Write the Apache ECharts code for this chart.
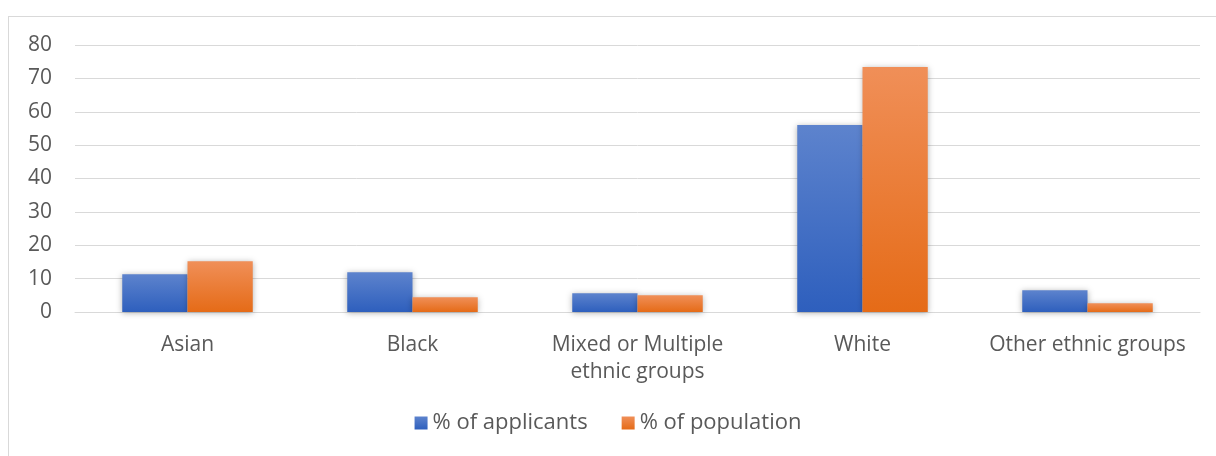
<!DOCTYPE html>
<html>
<head>
<meta charset="utf-8">
<script src="https://cdn.jsdelivr.net/npm/echarts@6/dist/echarts.min.js"></script>
<style>
  html, body { margin: 0; padding: 0; background: #fff; }
  #frame { position: absolute; left: 8px; top: 16px; width: 1220px; height: 460px; border: 1px solid #d9d9d9; box-sizing: border-box; }
  #chart { position: absolute; left: 0; top: 0; width: 1216px; height: 456px; }
</style>
</head>
<body>
<div id="frame"></div>
<div id="chart"></div>
<script>
const categories = ['Asian', 'Black', 'Mixed or Multiple\nethnic groups', 'White', 'Other ethnic groups'];
const applicants = [11.3, 11.9, 5.6, 56.0, 6.5];
const population = [15.2, 4.4, 5.0, 73.4, 2.6];
const seriesNames = ['% of applicants', '% of population'];

const font = '"Open Sans", "Noto Sans", sans-serif';
const textColor = '#595959';

function grad(top, bottom) {
  return new echarts.graphic.LinearGradient(0, 0, 0, 1, [
    { offset: 0, color: top },
    { offset: 1, color: bottom }
  ]);
}

const chart = echarts.init(document.getElementById('chart'));
chart.setOption({
  animation: false,
  grid: { left: 75, right: 16, top: 45, bottom: 144 },
  legend: {
    bottom: 17,
    left: 'center',
    itemWidth: 13,
    itemHeight: 13,
    itemGap: 34,
    icon: 'rect',
    textStyle: { color: textColor, fontSize: 22, fontFamily: font },
    data: seriesNames
  },
  xAxis: {
    type: 'category',
    data: categories,
    axisLine: { lineStyle: { color: '#d9d9d9', width: 1 } },
    axisTick: { show: false },
    axisLabel: { color: textColor, fontSize: 21, fontFamily: font, margin: 20, lineHeight: 27, interval: 0 }
  },
  yAxis: {
    type: 'value',
    min: 0,
    max: 80,
    interval: 10,
    axisLine: { show: false },
    axisTick: { show: false },
    splitLine: { lineStyle: { color: '#d9d9d9', width: 1 } },
    axisLabel: { color: textColor, fontSize: 21, fontFamily: font, margin: 23 }
  },
  series: [
    {
      name: seriesNames[0],
      type: 'bar',
      data: applicants,
      barGap: '0%',
      barCategoryGap: '42%',
      itemStyle: {
        color: grad('#5d83cd', '#2e5fbd'),
        shadowBlur: 6,
        shadowColor: 'rgba(0,0,0,0.3)',
        shadowOffsetY: 1
      }
    },
    {
      name: seriesNames[1],
      type: 'bar',
      data: population,
      itemStyle: {
        color: grad('#f08f58', '#e56b17'),
        shadowBlur: 6,
        shadowColor: 'rgba(0,0,0,0.3)',
        shadowOffsetY: 1
      }
    }
  ]
});
</script>
</body>
</html>
